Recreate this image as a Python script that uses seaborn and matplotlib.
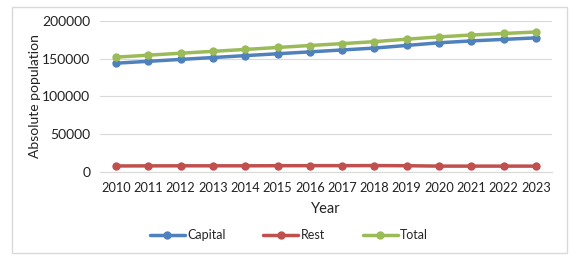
import numpy as np
import pandas as pd
import matplotlib
matplotlib.use("Agg")
import matplotlib.pyplot as plt
import seaborn as sns

years = list(range(2010, 2024))
capital = [144000, 146500, 149000, 151500, 154000, 156500, 159000, 161500,
           164000, 167500, 171000, 173500, 175500, 177500]
rest = [8000, 8100, 8200, 8200, 8200, 8300, 8400, 8400,
        8500, 8300, 7800, 7800, 7800, 7800]
total = [c + r for c, r in zip(capital, rest)]

df = pd.DataFrame({"Year": years, "Capital": capital, "Rest": rest, "Total": total})
long_df = df.melt(id_vars="Year", var_name="Series", value_name="Population")

sns.set_style("white")
plt.rcParams["font.family"] = ["Lato", "DejaVu Sans"]

fig = plt.figure(figsize=(5.78, 2.61), dpi=100)
ax = fig.add_axes([0.173, 0.341, 0.782, 0.579])

palette = {"Capital": "#4F81BD", "Rest": "#C0504D", "Total": "#9BBB59"}
sns.lineplot(data=long_df, x="Year", y="Population", hue="Series",
             palette=palette, marker="o", markersize=6, markeredgewidth=0,
             linewidth=2.5, ax=ax, legend=False)

ax.set_xlim(2009.5, 2023.5)
ax.set_ylim(0, 200000)
ax.set_yticks([0, 50000, 100000, 150000, 200000])
ax.set_xticks(years)
ax.tick_params(axis="x", labelsize=9.2, length=0, colors="#222222", pad=7)
ax.tick_params(axis="y", labelsize=10, length=0, colors="#222222", pad=7)
ax.grid(axis="y", color="#D9D9D9", linewidth=0.8)
ax.set_axisbelow(True)
for s in ["top", "right", "left"]:
    ax.spines[s].set_visible(False)
ax.spines["bottom"].set_color("#D9D9D9")
ax.set_xlabel("Year", fontsize=10.5, color="#222222", labelpad=6)
ax.set_ylabel("Absolute population", fontsize=10, color="#222222", labelpad=1)

handles = [plt.Line2D([], [], color=palette[k], marker="o", markersize=6,
                      markeredgewidth=0, linewidth=2.5) for k in ["Capital", "Rest", "Total"]]
fig.legend(handles, ["Capital", "Rest", "Total"], loc="center", ncol=3,
           bbox_to_anchor=(0.5, 0.1), frameon=False, fontsize=9,
           handlelength=2.8, handletextpad=0.2, columnspacing=3)

fig.patches.append(plt.Rectangle((12 / 578, 8 / 261), 555 / 578, 246 / 261,
                                 transform=fig.transFigure, fill=False,
                                 edgecolor="#D9D9D9", linewidth=1))

fig.savefig("out.png", dpi=100)
